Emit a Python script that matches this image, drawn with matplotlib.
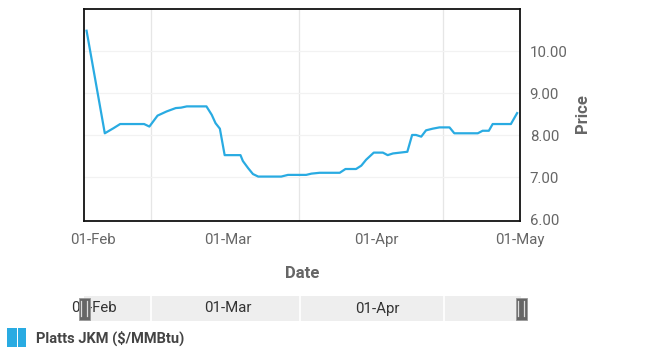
import matplotlib.pyplot as plt
from matplotlib.patches import Rectangle

plt.rcParams['font.family'] = ['Roboto', 'DejaVu Sans']

# days counted from 01-Feb
days = [-1.4, 2.4, 4.2, 5.6, 10.6, 11.7, 13.4, 15.3, 17.2, 18.3, 19.5, 23.6,
        24.7, 25.5, 26.4, 27.4, 30.7, 31.2, 32.3, 33.3, 34.4, 39.2, 40.6, 44.4,
        45.5, 47.2, 51.4, 52.6, 54.8, 55.9, 56.9, 58.5, 60.4, 61.4, 62.5, 65.5,
        66.5, 67.3, 68.4, 69.4, 70.8, 72.2, 74.3, 75.3, 80.2, 81.2, 82.5, 83.3,
        87.1, 88.4]
prices = [10.49, 8.05, 8.17, 8.27, 8.27, 8.21, 8.47, 8.57, 8.65, 8.66, 8.69, 8.69,
          8.49, 8.29, 8.16, 7.53, 7.53, 7.39, 7.22, 7.08, 7.02, 7.02, 7.06, 7.06,
          7.09, 7.11, 7.11, 7.20, 7.20, 7.28, 7.42, 7.59, 7.59, 7.53, 7.57, 7.61,
          8.01, 8.01, 7.97, 8.12, 8.16, 8.19, 8.19, 8.05, 8.05, 8.11, 8.11, 8.27,
          8.27, 8.53]

tick_days = [0, 28, 59, 89]
tick_labels = ['01-Feb', '01-Mar', '01-Apr', '01-May']
grid_days = [12, 43, 73]
nav_days = [0, 28, 59]
nav_labels = ['01-Feb', '01-Mar', '01-Apr']
yticks = [6, 7, 8, 9, 10]
series_name = 'Platts JKM ($/MMBtu)'

blue = '#29abe2'
W, H = 646, 358
fig = plt.figure(figsize=(W / 100, H / 100), dpi=100)

ax = fig.add_axes([83.7 / W, 1 - 220.7 / H, (520 - 83.7) / W, (220.7 - 9.3) / H])
ax.plot(days, prices, color=blue, lw=1.6, solid_joinstyle='round')
ax.set_xlim(-2, 89)
ax.set_ylim(5.97, 11.0)

for g in grid_days:
    ax.axvline(g, color='#e6e6e6', lw=0.9, zorder=0)
for yv in yticks[1:]:
    ax.axhline(yv, color='#f2f2f2', lw=0.9, zorder=0)

ax.set_xticks(tick_days)
ax.set_xticklabels(tick_labels)
ax.set_yticks(yticks)
ax.set_yticklabels(['%.2f' % v for v in yticks])
ax.yaxis.tick_right()
ax.tick_params(axis='both', length=0, labelsize=10.8, colors='#666666')
ax.tick_params(axis='x', pad=9)
ax.tick_params(axis='y', pad=7)
for s in ax.spines.values():
    s.set_color('#111111')
    s.set_linewidth(1.3)

fig.text(302 / W, 1 - 273 / H, 'Date', ha='center', va='center',
         fontsize=12, fontweight='bold', color='#666666')
fig.text(583 / W, 1 - 114 / H, 'Price', ha='center', va='center', rotation=90,
         fontsize=12, fontweight='bold', color='#666666')

# navigator
nav = fig.add_axes([84 / W, 1 - 321 / H, (521 - 84) / W, 25 / H])
nav.set_facecolor('#eeeeee')
nav.set_xlim(-2, 89)
nav.set_ylim(0, 1)
for g in grid_days:
    nav.axvline(g, color='white', lw=1.2)
for d, lab in zip(nav_days, nav_labels):
    nav.text(d, 0.5, lab, ha='center', va='center', fontsize=10.8, color='#333333')
for s in nav.spines.values():
    s.set_visible(False)
nav.set_xticks([])
nav.set_yticks([])
hw = 11 / 437
for xa in [0, 1]:
    nav.add_patch(Rectangle((xa - hw / 2, 0.06), hw, 0.88, transform=nav.transAxes,
                            facecolor='#666666', edgecolor='#999999', lw=0.6,
                            clip_on=False, zorder=5))
    for off in [-0.25, 0.25]:
        nav.plot([xa + off * hw, xa + off * hw], [0.2, 0.8], transform=nav.transAxes,
                 color='#dddddd', lw=0.9, clip_on=False, zorder=6)

# legend
fig.patches.append(Rectangle((7.3 / W, 1 - 346.5 / H), 9.4 / W, 18.5 / H,
                             transform=fig.transFigure, facecolor=blue, edgecolor='none'))
fig.patches.append(Rectangle((18.3 / W, 1 - 346.5 / H), 7.4 / W, 18.5 / H,
                             transform=fig.transFigure, facecolor=blue, edgecolor='none'))
fig.text(36 / W, 1 - 338 / H, series_name, ha='left', va='center',
         fontsize=10.5, fontweight='bold', color='#444444')

fig.savefig('out.png', dpi=100)
